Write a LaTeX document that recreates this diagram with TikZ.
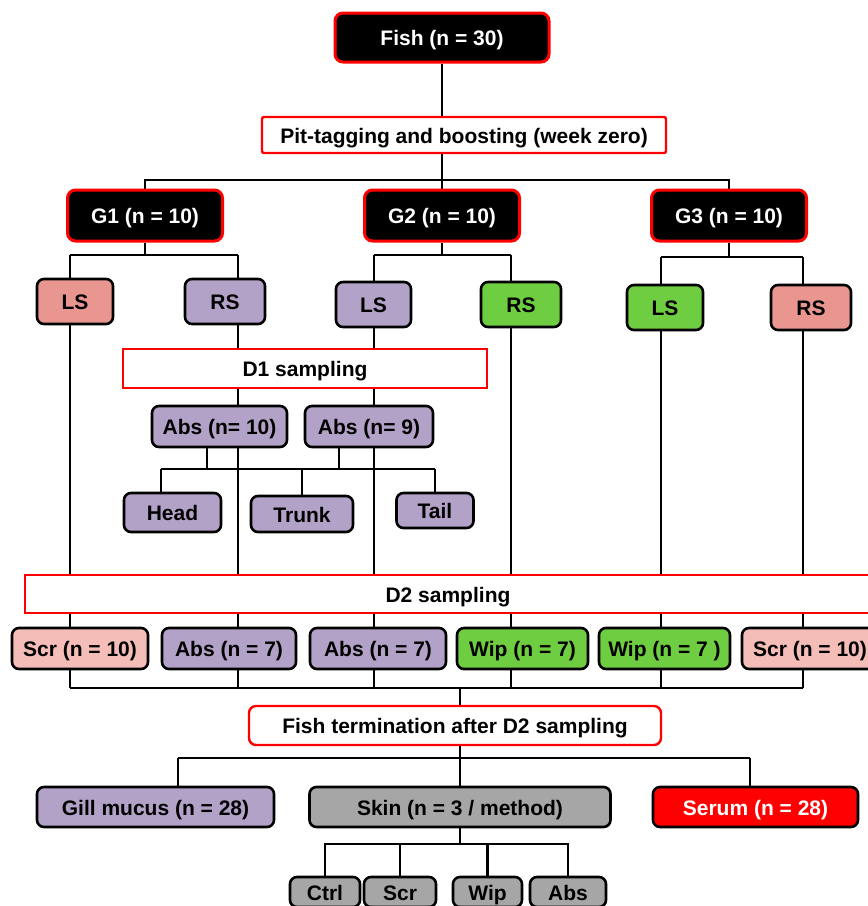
\documentclass[tikz,border=0pt]{standalone}
\usepackage{fontspec}
\setmainfont{Liberation Sans}
\usepackage{xcolor}
\usetikzlibrary{backgrounds}

\definecolor{boxred}{RGB}{255,0,0}
\definecolor{lspink}{RGB}{234,150,144}
\definecolor{scrpink}{RGB}{245,189,184}
\definecolor{abspurple}{RGB}{179,162,199}
\definecolor{wipgreen}{RGB}{110,205,64}
\definecolor{skingray}{RGB}{166,166,166}

\begin{document}
\begin{tikzpicture}[x=1pt,y=-1pt,
		box/.style={inner sep=0pt,align=center,text height=16.5pt,text depth=0pt,font=\bfseries\fontsize{21}{24}\selectfont},
		group/.style={box,fill=black,draw=boxred,text=white,line width=3pt,rounded corners=8pt,minimum height=51pt},
		stage/.style={box,fill=white,draw=boxred,line width=2.4pt},
		sample/.style={box,draw=black,line width=2.6pt,rounded corners=7pt},
		link/.style={line width=2.8pt}]
			\useasboundingbox (0,0) rectangle (868,906);
			
			% top
			
			\node[group,minimum width=214pt,minimum height=49pt] (fish) at (442,37.5) {Fish (n = 30)};
			\node[stage,rounded corners=2pt,minimum width=404pt,minimum height=36pt] (pit) at (464,135) {Pit-tagging and boosting (week zero)};
			\node[group,minimum width=155pt] (g1) at (145,215.5) {G1 (n = 10)};
			\node[group,minimum width=155pt] (g2) at (442,215.5) {G2 (n = 10)};
			\node[group,minimum width=155pt] (g3) at (729,215.5) {G3 (n = 10)};
			
			% sides
			
			\node[sample,fill=lspink,minimum width=76pt,minimum height=45pt] (ls1) at (75,301.5) {LS};
			\node[sample,fill=abspurple,minimum width=80pt,minimum height=45pt] (rs1) at (225,301.5) {RS};
			\node[sample,fill=abspurple,minimum width=75pt,minimum height=45pt] (ls2) at (373.5,304.5) {LS};
			\node[sample,fill=wipgreen,minimum width=80pt,minimum height=45pt] (rs2) at (521,304.5) {RS};
			\node[sample,fill=wipgreen,minimum width=76pt,minimum height=45pt] (ls3) at (665,307.5) {LS};
			\node[sample,fill=lspink,minimum width=80pt,minimum height=45pt] (rs3) at (811,307.5) {RS};
			
			% D1
			
			\node[stage,minimum width=364pt,minimum height=39pt] (d1) at (305,368.5) {D1 sampling};
			\node[sample,fill=abspurple,minimum width=135pt,minimum height=41pt] (abs10) at (219.5,426.5) {Abs (n= 10)};
			\node[sample,fill=abspurple,minimum width=128pt,minimum height=41pt] (abs9) at (369,426.5) {Abs (n= 9)};
			\node[sample,fill=abspurple,minimum width=97pt,minimum height=39pt] (head) at (172.5,512.5) {Head};
			\node[sample,fill=abspurple,minimum width=102pt,minimum height=36pt] (trunk) at (302,514) {Trunk};
			\node[sample,fill=abspurple,minimum width=77pt,minimum height=35pt] (tail) at (435,510.5) {Tail};
			
			% D2
			
			\node[stage,minimum width=846pt,minimum height=38pt] (d2) at (448,594) {D2 sampling};
			\node[sample,fill=scrpink,minimum width=136pt,minimum height=41pt] (scr1) at (80,648.5) {Scr (n = 10)};
			\node[sample,fill=abspurple,minimum width=134pt,minimum height=41pt] (abs7a) at (229,648.5) {Abs (n = 7)};
			\node[sample,fill=abspurple,minimum width=136pt,minimum height=41pt] (abs7b) at (378,648.5) {Abs (n = 7)};
			\node[sample,fill=wipgreen,minimum width=131pt,minimum height=41pt] (wip7a) at (522.5,648.5) {Wip (n = 7)};
			\node[sample,fill=wipgreen,minimum width=131pt,minimum height=41pt] (wip7b) at (664.5,648.5) {Wip (n = 7 )};
			\node[sample,fill=scrpink,minimum width=136pt,minimum height=41pt] (scr2) at (810,648.5) {Scr (n = 10)};
			
			% termination
			
			\node[stage,rounded corners=7pt,minimum width=412pt,minimum height=39pt] (term) at (455,725.5) {Fish termination after D2 sampling};
			\node[sample,fill=abspurple,minimum width=237pt,minimum height=40pt] (gill) at (155.5,807) {Gill mucus (n = 28)};
			\node[sample,fill=skingray,minimum width=301pt,minimum height=40pt] (skin) at (460,807) {Skin (n = 3 / method)};
			\node[sample,fill=boxred,text=white,minimum width=205pt,minimum height=40pt] (serum) at (755.5,807) {Serum (n = 28)};
			
			\node[sample,fill=skingray,minimum width=70pt,minimum height=30pt] (ctrl) at (325,892) {Ctrl};
			\node[sample,fill=skingray,minimum width=72pt,minimum height=30pt] (sscr) at (400,892) {Scr};
			\node[sample,fill=skingray,minimum width=69pt,minimum height=30pt] (swip) at (487.5,892) {Wip};
			\node[sample,fill=skingray,minimum width=76pt,minimum height=30pt] (sabs) at (568,892) {Abs};
			
			% lines
			
			\foreach \i/\x/\y in {1/70/255,2/238/255,3/374/255,4/511/255,5/661/257,6/803/257} {
				\coordinate (u\i) at (\x,\y);
				\coordinate (v\i) at (\x,688);
			}
			\coordinate (gbar) at (442,180);
			\coordinate (mbar) at (460,688);
			\coordinate (a1) at (207,469);
			\coordinate (a2) at (339,469);
			\coordinate (p1) at (161,469);
			\coordinate (p3) at (435,469);
			\coordinate (q0) at (460,758);
			\coordinate (q1) at (178,758);
			\coordinate (q3) at (750,758);
			\coordinate (s0) at (460,844);
			
			\begin{scope}[on background layer]
			\begin{scope}[link]
				\draw (fish) -- (fish |- pit.north);
				\draw (pit.south -| gbar) -- (gbar);
				\draw (g1) |- (gbar) -| (g3);
				\draw (gbar) -- (g2);
				
				\draw (g1) -- (g1 |- u1);
				\draw (g2) -- (g2 |- u3);
				\draw (g3) -- (g3 |- u5);
				\draw (u1) -- (u2);
				\draw (u3) -- (u4);
				\draw (u5) -- (u6);
				\foreach \i in {1,...,6}
					\draw (u\i) -- (v\i);
				
				\draw (abs10.south -| a1) -- (a1);
				\draw (abs9.south -| a2) -- (a2);
				\draw (p1) -- (p3);
				\draw (p1) -- (p1 |- head.north);
				\draw (trunk) -- (trunk |- p1);
				\draw (tail) -- (tail |- p1);
				
				\draw (v1) -- (v6);
				\draw (mbar) -- (mbar |- term.north);
				
				\draw (term.south -| q0) -- (q0);
				\draw (q1) -- (q3);
				\draw (q1) -- (q1 |- gill.north);
				\draw (q3) -- (q3 |- serum.north);
				\draw (q0) -- (skin);
				
				\draw (skin) -- (s0);
				\draw (ctrl) |- (s0) -| (sabs);
				\draw (sscr) -- (sscr |- s0);
				\draw (swip) -- (swip |- s0);
			\end{scope}
			\end{scope}
		\end{tikzpicture}
\end{document}
